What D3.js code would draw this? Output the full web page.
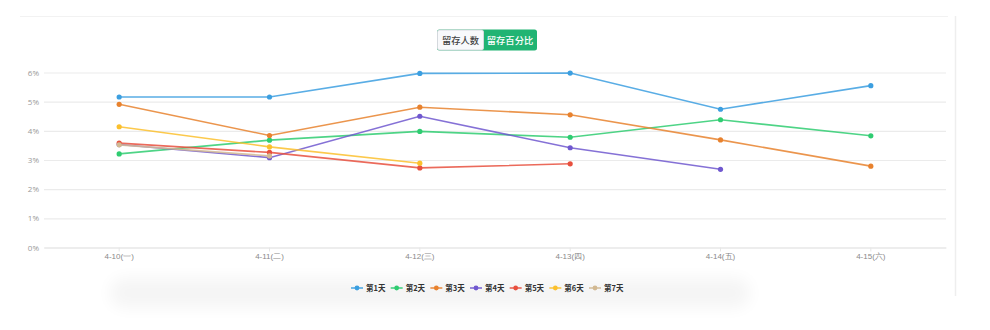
<!DOCTYPE html>
<html>
<head>
<meta charset="utf-8">
<script src="https://cdn.jsdelivr.net/npm/d3@7"></script>
<style>
  html, body { margin: 0; padding: 0; background: #fff; }
  svg { display: block; font-family: "Noto Sans CJK SC", "Noto Sans", sans-serif; }
</style>
</head>
<body>
<svg id="chart" width="990" height="330"></svg>
<script>
// Retention percentage by cohort date, one series per retention day
const categories = ["4-10(一)", "4-11(二)", "4-12(三)", "4-13(四)", "4-14(五)", "4-15(六)"];
const seriesNames = ["第1天", "第2天", "第3天", "第4天", "第5天", "第6天", "第7天"];
const day1 = [5.16, 5.16, 5.97, 5.98, 4.74, 5.55];
const day2 = [3.21, 3.68, 3.98, 3.78, 4.38, 3.83];
const day3 = [4.91, 3.84, 4.81, 4.55, 3.69, 2.79];
const day4 = [3.53, 3.08, 4.50, 3.42, 2.68];
const day5 = [3.58, 3.26, 2.73, 2.87];
const day6 = [4.14, 3.45, 2.89];
const day7 = [3.52, 3.14];
const yTicks = [0, 1, 2, 3, 4, 5, 6];
const toggleLabels = ["留存人数", "留存百分比"];

const seriesValues = [day1, day2, day3, day4, day5, day6, day7];
const colors = ["#3c9fe0", "#2fcc71", "#e8822e", "#7058cf", "#e8503e", "#fbc02d", "#d2b992"];

const svg = d3.select("#chart");

const plot = { left: 44, right: 946, top: 72.5, bottom: 247.5 };

const x = d3.scaleBand().domain(categories).range([plot.left, plot.right]);
const y = d3.scaleLinear().domain([0, 6]).range([plot.bottom, plot.top]);

// Soft shadow band beneath the axis labels
const defs = svg.append("defs");
const blur = defs.append("filter").attr("id", "soft").attr("x", "-20%").attr("y", "-200%").attr("width", "140%").attr("height", "500%");
blur.append("feGaussianBlur").attr("stdDeviation", 8);
svg.append("rect")
  .attr("x", 110).attr("y", 278).attr("width", 640).attr("height", 30)
  .attr("rx", 14)
  .attr("fill", "#000").attr("opacity", 0.04)
  .attr("filter", "url(#soft)");

// Panel frame lines
svg.append("line").attr("x1", 20).attr("x2", 948).attr("y1", 16.5).attr("y2", 16.5)
  .attr("stroke", "#f2f2f2").attr("stroke-width", 1);
svg.append("line").attr("x1", 955.5).attr("x2", 955.5).attr("y1", 16).attr("y2", 296)
  .attr("stroke", "#eeeeee").attr("stroke-width", 1.5);

// Horizontal grid + y labels
const yAxis = d3.axisLeft(y).tickValues(yTicks).tickSize(-(plot.right - plot.left)).tickFormat(d => d + "%");
const gy = svg.append("g").attr("transform", `translate(${plot.left},0)`).call(yAxis);
gy.select(".domain").remove();
gy.selectAll(".tick line").attr("stroke", "#ebebeb").attr("stroke-width", 1.2);
gy.selectAll(".tick text").attr("x", -5).attr("fill", "#999").attr("font-size", 8)
  .attr("font-family", "'Open Sans', 'Noto Sans', sans-serif");

// X axis
const xAxis = d3.axisBottom(x).tickSize(4).tickSizeOuter(0).tickPadding(2);
const gx = svg.append("g").attr("transform", `translate(0,${plot.bottom})`).call(xAxis);
gx.select(".domain").attr("stroke", "#e6e6e6").attr("stroke-width", 1.2);
gx.selectAll(".tick line").attr("stroke", "#e6e6e6");
gx.selectAll(".tick text").attr("fill", "#8a8a8a").attr("font-size", 8);

// Lines
const line = d3.line()
  .x((d, i) => x(categories[i]) + x.bandwidth() / 2)
  .y(d => y(d));

seriesValues.forEach((vals, s) => {
  const g = svg.append("g");
  g.append("path").datum(vals)
    .attr("d", line)
    .attr("fill", "none")
    .attr("stroke", colors[s])
    .attr("stroke-width", 1.6)
    .attr("stroke-opacity", 0.85);
  g.selectAll("circle").data(vals).join("circle")
    .attr("cx", (d, i) => x(categories[i]) + x.bandwidth() / 2)
    .attr("cy", d => y(d))
    .attr("r", 2.6)
    .attr("fill", colors[s]);
});

// Toggle buttons
const btn = svg.append("g").attr("transform", "translate(437,29.5)");
btn.append("rect").attr("x", 0).attr("y", 0).attr("width", 100).attr("height", 21).attr("rx", 2.5)
  .attr("fill", "#21b473");
btn.append("rect").attr("x", 0.5).attr("y", 0.5).attr("width", 46).attr("height", 20).attr("rx", 2)
  .attr("fill", "#f8f9fb").attr("stroke", "#d4d8dd").attr("stroke-width", 1);
btn.append("text").attr("x", 23.5).attr("y", 14.3).attr("text-anchor", "middle")
  .attr("font-size", 9.3).attr("font-weight", 500).attr("fill", "#444").text(toggleLabels[0]);
btn.append("text").attr("x", 73).attr("y", 14.3).attr("text-anchor", "middle")
  .attr("font-size", 9.3).attr("font-weight", 500).attr("fill", "#fff").text(toggleLabels[1]);

// Legend
const legendX = d3.scalePoint().domain(seriesNames).range([351, 589]);
const lg = svg.append("g").selectAll("g").data(seriesNames).join("g")
  .attr("transform", d => `translate(${legendX(d)},288)`);
lg.append("line").attr("x1", 0).attr("x2", 12).attr("y1", 0).attr("y2", 0)
  .attr("stroke", (d, i) => colors[i]).attr("stroke-width", 1.4);
lg.append("circle").attr("cx", 6).attr("cy", 0).attr("r", 2.4).attr("fill", (d, i) => colors[i]);
lg.append("text").attr("x", 15).attr("y", 3).attr("font-size", 7.5).attr("font-weight", "bold")
  .attr("fill", "#333").text(d => d);
</script>
</body>
</html>
